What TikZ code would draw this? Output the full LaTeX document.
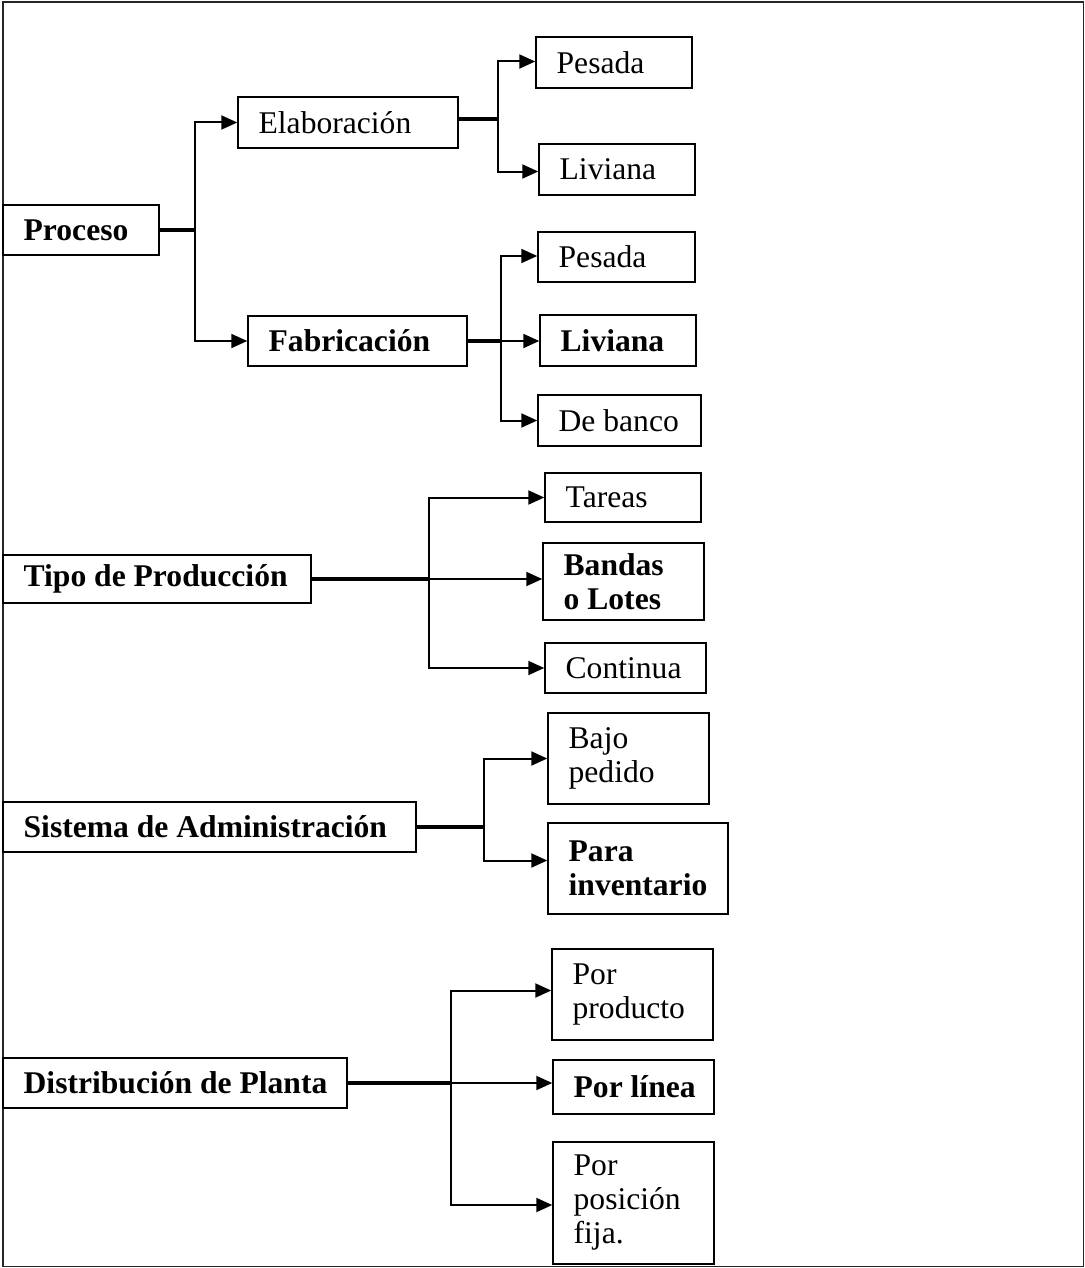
\documentclass[tikz,border=0pt]{standalone}
\usepackage{fontspec}
\setmainfont{Liberation Serif}
\usetikzlibrary{arrows.meta}
\newcommand\mkbox[7][]{%
  \pgfmathsetmacro\mybw{(#5-#3)*0.5}%
  \pgfmathsetmacro\mybh{(#6-#4)*0.5}%
  \node[box,minimum width=\mybw pt,minimum height=\mybh pt] (#2) at ({(#3+#5)/2},{(#4+#6)/2}) {};%
  \node[txt,#1] (#2-t) at ([xshift=10.5pt]#2.west) {#7};%
}
\begin{document}
\begin{tikzpicture}[x=0.5pt,y=-0.5pt,
  box/.style={draw=black,line width=0.75pt,inner sep=0pt,rectangle},
  txt/.style={anchor=west,inner sep=0pt,align=left,font=\fontsize{15.8pt}{17pt}\selectfont},
  bf/.style={font=\fontsize{15.8pt}{17pt}\selectfont\bfseries},
  stub/.style={line width=2pt},
  arr/.style={line width=1pt,-{Triangle[length=8pt,width=7pt]}}]
\useasboundingbox (0,0) rectangle (1085,1268);
\draw[line width=0.8pt,draw=black!85] (3,2) rectangle (1083.5,1266.5);
% Proceso
\mkbox[bf]{proc}{3}{205}{159}{255}{Proceso}
\mkbox{elab}{238}{97}{458}{148}{Elaboración}
\mkbox[bf]{fab}{248}{316}{467}{366}{Fabricación}
\mkbox{pes1}{536}{37}{692}{88}{Pesada}
\mkbox{liv1}{539}{144}{695}{195}{Liviana}
\mkbox{pes2}{538}{232}{695}{282}{Pesada}
\mkbox[bf]{liv2}{540}{315}{696}{366}{Liviana}
\mkbox{banco}{538}{395}{701}{446}{De banco}
\path (proc.east) ++(35,0) coordinate (j1);
\path (elab.east) ++(39,-3.5) coordinate (j2);
\path (fab.east) ++(33,0) coordinate (j3);
\draw[stub] (proc.east) -- (j1);
\draw[arr] (j1) |- (elab.west);
\draw[arr] (j1) |- (fab.west);
\draw[stub] (elab.east |- j2) -- (j2);
\draw[arr] (j2) |- ([yshift=0.5pt]pes1.west);
\draw[arr] (j2) |- ([yshift=-1pt]liv1.west);
\draw[stub] (fab.east) -- (j3);
\draw[arr] (j3) |- ([yshift=0.5pt]pes2.west);
\draw[arr] (j3) -- (j3 -| liv2.west);
\draw[arr] (j3) |- (banco.west);
% Tipo de Produccion
\mkbox[bf]{tipo}{3}{555}{311}{603}{Tipo de Producción}
\mkbox{tar}{545}{473}{701}{522}{Tareas}
\mkbox[bf]{band}{543}{543}{704}{620}{Bandas\\o Lotes}
\mkbox{cont}{545}{643}{706}{693}{Continua}
\path (tipo.east) ++(117,0) coordinate (j4);
\draw[stub] (tipo.east) -- (j4);
\draw[arr] (j4) |- (tar.west);
\draw[arr] (j4) -- (j4 -| band.west);
\draw[arr] (j4) |- (cont.west);
% Sistema de Administracion
\mkbox[bf]{sist}{3}{802}{416}{852}{Sistema de Administración}
\mkbox{bajo}{548}{713}{709}{804}{Bajo\\pedido}
\mkbox[bf]{para}{548}{823}{728}{914}{Para\\inventario}
\path (sist.east) ++(67,0) coordinate (j5);
\draw[stub] (sist.east) -- (j5);
\draw[arr] (j5) |- (bajo.west);
\draw[arr] (j5) |- ([yshift=4pt]para.west);
% Distribucion de Planta
\mkbox[bf]{dist}{3}{1058}{347}{1108}{Distribución de Planta}
\mkbox{prod}{552}{949}{713}{1040}{Por\\producto}
\mkbox[bf]{lin}{553}{1060}{714}{1114}{Por línea}
\mkbox{fija}{553}{1142}{714}{1264}{Por\\posición\\fija.}
\path (dist.east) ++(103,0) coordinate (j6);
\draw[stub] (dist.east) -- (j6);
\draw[arr] (j6) |- ([yshift=2pt]prod.west);
\draw[arr] (j6) -- (j6 -| lin.west);
\draw[arr] (j6) |- ([yshift=-1pt]fija.west);
\end{tikzpicture}
\end{document}
